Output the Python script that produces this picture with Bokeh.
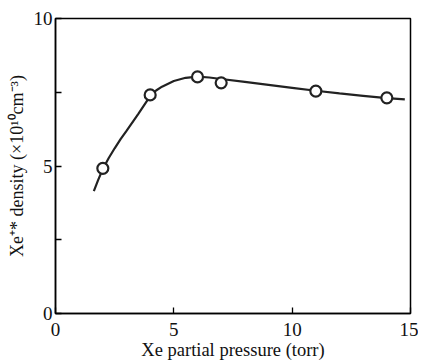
from bokeh.plotting import figure
from bokeh.models import FixedTicker, Range1d
from bokeh.embed import file_html
from bokeh.resources import INLINE

# measured points
pressure = [2.0, 4.0, 6.0, 7.0, 11.0, 14.0]
density = [4.92, 7.41, 8.02, 7.82, 7.54, 7.31]

# smooth fitted curve
curve_x = [1.62, 1.8, 2.0, 2.25, 2.5, 2.75, 3.0, 3.5, 4.0, 4.25, 4.5, 5.0, 5.5, 6.0, 6.5, 7.0, 8.0, 9.0, 10.0, 11.0, 12.0, 13.0, 14.0, 14.76]
curve_y = [4.15, 4.52, 4.9, 5.27, 5.6, 5.91, 6.19, 6.77, 7.37, 7.56, 7.69, 7.88, 7.99, 8.03, 8.0, 7.95, 7.85, 7.75, 7.65, 7.55, 7.46, 7.38, 7.3, 7.26]

x_ticks = [0, 5, 10, 15]
y_ticks = [0, 5, 10]
y_minor = [2.5, 7.5]

FONT = "Liberation Serif"

p = figure(frame_width=355, frame_height=295, output_backend="svg", toolbar_location=None,
           x_range=Range1d(0, 15), y_range=Range1d(0, 10),
           min_border_left=55, min_border_right=8, min_border_top=18, min_border_bottom=49)
p.grid.visible = False
p.outline_line_color = "black"
p.outline_line_width = 1.5

p.line(curve_x, curve_y, line_color="#222222", line_width=2.2)
p.scatter(pressure, density, size=11, fill_color="white", line_color="#222222", line_width=2.2)

for ax in (p.xaxis[0], p.yaxis[0]):
    ax.axis_line_width = 1.5
    ax.axis_line_color = "black"
    ax.major_tick_in = 6
    ax.major_tick_out = 0
    ax.minor_tick_in = 6
    ax.minor_tick_out = 0
    ax.major_tick_line_width = 1.3
    ax.minor_tick_line_width = 1.3
    ax.major_label_text_font = FONT
    ax.major_label_text_font_size = "19px"
    ax.major_label_text_color = "#111111"
    ax.axis_label_text_font = FONT
    ax.axis_label_text_font_size = "18.5px"
    ax.axis_label_text_font_style = "normal"
    ax.axis_label_text_color = "#111111"

p.xaxis[0].ticker = FixedTicker(ticks=x_ticks, minor_ticks=[])
p.yaxis[0].ticker = FixedTicker(ticks=y_ticks, minor_ticks=y_minor)
p.xaxis[0].major_label_standoff = 9
p.yaxis[0].major_label_standoff = 3
p.xaxis[0].axis_label = "Xe partial pressure (torr)"
p.yaxis[0].axis_label = "Xe\u207a* density (\u00d710\u00b9\u2070cm\u207b\u00b3)"
p.yaxis[0].axis_label_text_font_size = "18px"
p.xaxis[0].axis_label_standoff = 1
p.yaxis[0].axis_label_standoff = 4

open("out.html", "w").write(file_html(p, INLINE))
